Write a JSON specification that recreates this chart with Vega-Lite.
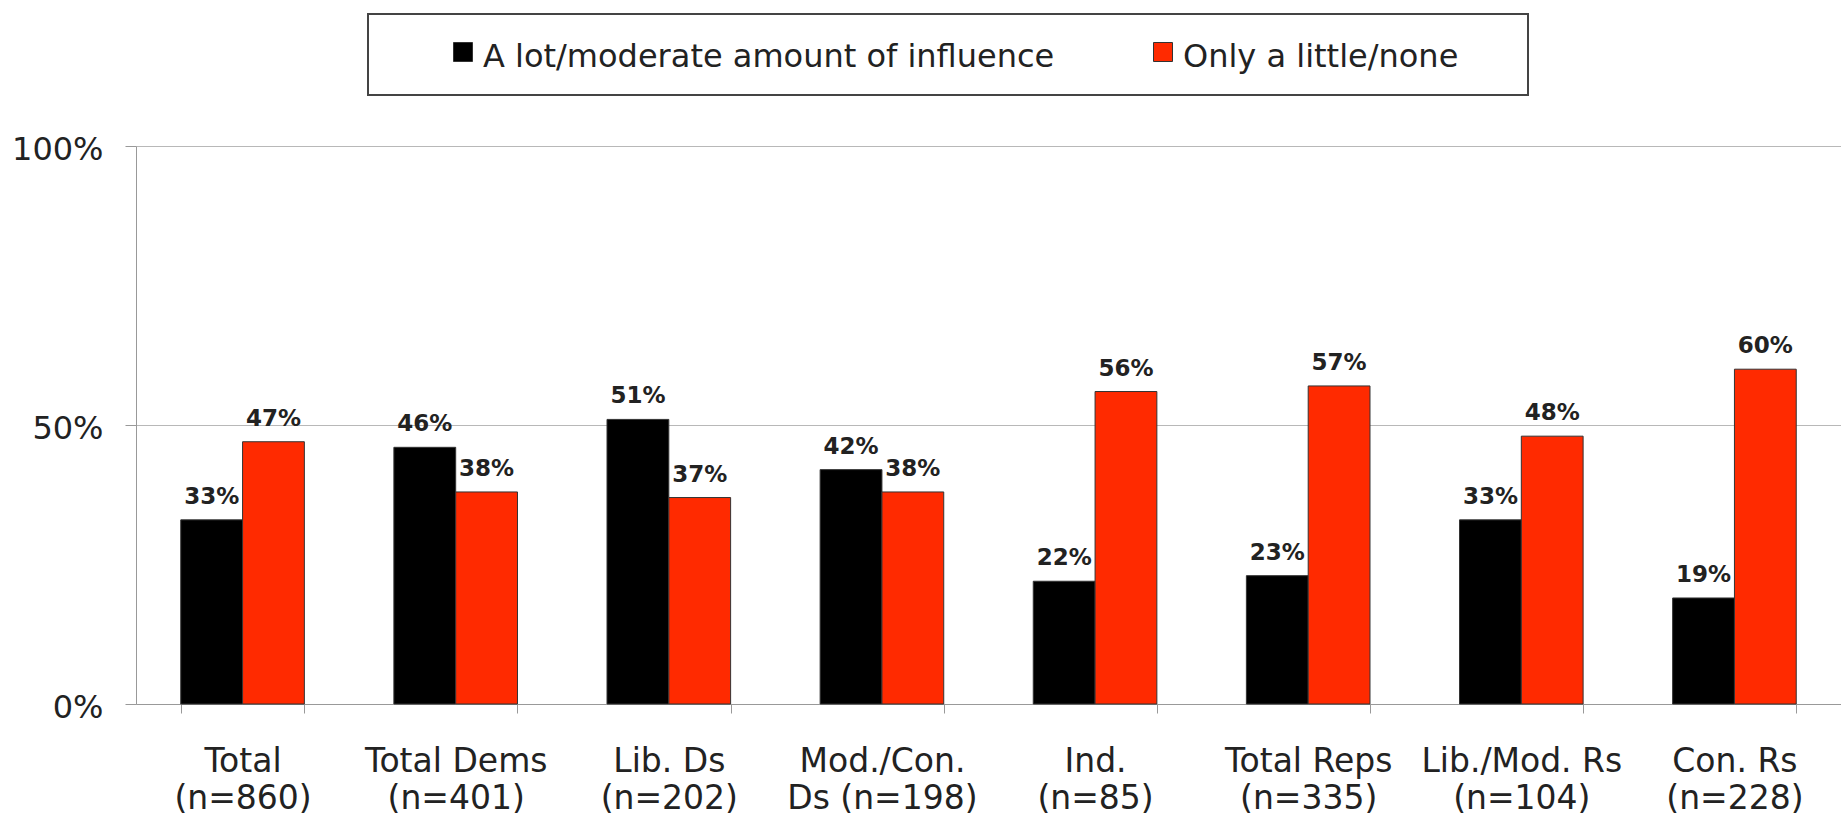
{
  "$schema": "https://vega.github.io/schema/vega-lite/v6.json",
  "autosize": {"type": "none"},
  "padding": {"left": 136, "top": 146, "right": 0, "bottom": 118},
  "width": 1705,
  "height": 558,
  "background": "white",
  "config": {"font": "DejaVu Sans", "view": {"stroke": null}},
  "data": {
    "values": [
      {"group": "Total|(n=860)", "response": "A lot/moderate amount of influence", "pct": 0.33},
      {"group": "Total|(n=860)", "response": "Only a little/none", "pct": 0.47},
      {"group": "Total Dems|(n=401)", "response": "A lot/moderate amount of influence", "pct": 0.46},
      {"group": "Total Dems|(n=401)", "response": "Only a little/none", "pct": 0.38},
      {"group": "Lib. Ds|(n=202)", "response": "A lot/moderate amount of influence", "pct": 0.51},
      {"group": "Lib. Ds|(n=202)", "response": "Only a little/none", "pct": 0.37},
      {"group": "Mod./Con.|Ds (n=198)", "response": "A lot/moderate amount of influence", "pct": 0.42},
      {"group": "Mod./Con.|Ds (n=198)", "response": "Only a little/none", "pct": 0.38},
      {"group": "Ind.|(n=85)", "response": "A lot/moderate amount of influence", "pct": 0.22},
      {"group": "Ind.|(n=85)", "response": "Only a little/none", "pct": 0.56},
      {"group": "Total Reps|(n=335)", "response": "A lot/moderate amount of influence", "pct": 0.23},
      {"group": "Total Reps|(n=335)", "response": "Only a little/none", "pct": 0.57},
      {"group": "Lib./Mod. Rs|(n=104)", "response": "A lot/moderate amount of influence", "pct": 0.33},
      {"group": "Lib./Mod. Rs|(n=104)", "response": "Only a little/none", "pct": 0.48},
      {"group": "Con. Rs|(n=228)", "response": "A lot/moderate amount of influence", "pct": 0.19},
      {"group": "Con. Rs|(n=228)", "response": "Only a little/none", "pct": 0.60}
    ]
  },
  "encoding": {
    "x": {
      "field": "group",
      "type": "nominal",
      "sort": null,
      "title": null,
      "scale": {"paddingInner": 0.42, "paddingOuter": 0.21},
      "axis": {
        "labelAngle": 0,
        "labelExpr": "split(datum.label, '|')",
        "tickBand": "extent",
        "tickSize": 9,
        "tickColor": "#999999",
        "domainColor": "#999999",
        "labelFont": "DejaVu Sans",
        "labelFontSize": 33,
        "labelLineHeight": 37,
        "labelPadding": 32,
        "labelBaseline": "top",
        "labelColor": "#222222",
        "labelLimit": 0,
        "grid": false
      }
    },
    "xOffset": {
      "field": "response",
      "type": "nominal",
      "sort": ["A lot/moderate amount of influence", "Only a little/none"]
    },
    "y": {
      "field": "pct",
      "type": "quantitative",
      "title": null,
      "scale": {"domain": [0, 1]},
      "axis": {
        "values": [0, 0.5, 1],
        "format": ".0%",
        "grid": true,
        "gridColor": "#b8b8b8",
        "domainColor": "#999999",
        "tickColor": "#999999",
        "tickSize": 11,
        "labelFont": "DejaVu Sans",
        "labelFontSize": 32,
        "labelColor": "#222222",
        "labelPadding": 22,
        "labelOffset": 3
      }
    }
  },
  "layer": [
    {
      "mark": {"type": "bar", "stroke": "#333333", "strokeWidth": 1},
      "encoding": {
        "color": {
          "field": "response",
          "type": "nominal",
          "scale": {
            "domain": ["A lot/moderate amount of influence", "Only a little/none"],
            "range": ["#000000", "#FF2A00"]
          },
          "legend": {
            "orient": "none",
            "legendX": 232,
            "legendY": -132,
            "direction": "horizontal",
            "title": null,
            "strokeColor": "#444444",
            "padding": 22,
            "symbolType": "square",
            "symbolSize": 361,
            "symbolOffset": 57,
            "symbolStrokeColor": "#333333",
            "symbolStrokeWidth": 1,
            "labelOffset": 4,
            "columnPadding": 35,
            "labelFont": "DejaVu Sans",
            "labelFontSize": 32,
            "labelColor": "#222222",
            "labelLimit": 0,
            "labelExpr": "datum.label == 'Only a little/none' ? datum.label + '\u2800\u2800' : datum.label",
            "encode": {
              "labels": {"update": {"dy": {"value": 5}}},
              "legend": {"update": {"strokeWidth": {"value": 2}}}
            }
          }
        }
      }
    },
    {
      "mark": {
        "type": "text",
        "baseline": "alphabetic",
        "dy": -16,
        "font": "DejaVu Sans",
        "fontWeight": "bold",
        "fontSize": 23,
        "color": "#222222"
      },
      "encoding": {
        "text": {"field": "pct", "type": "quantitative", "format": ".0%"}
      }
    }
  ]
}
